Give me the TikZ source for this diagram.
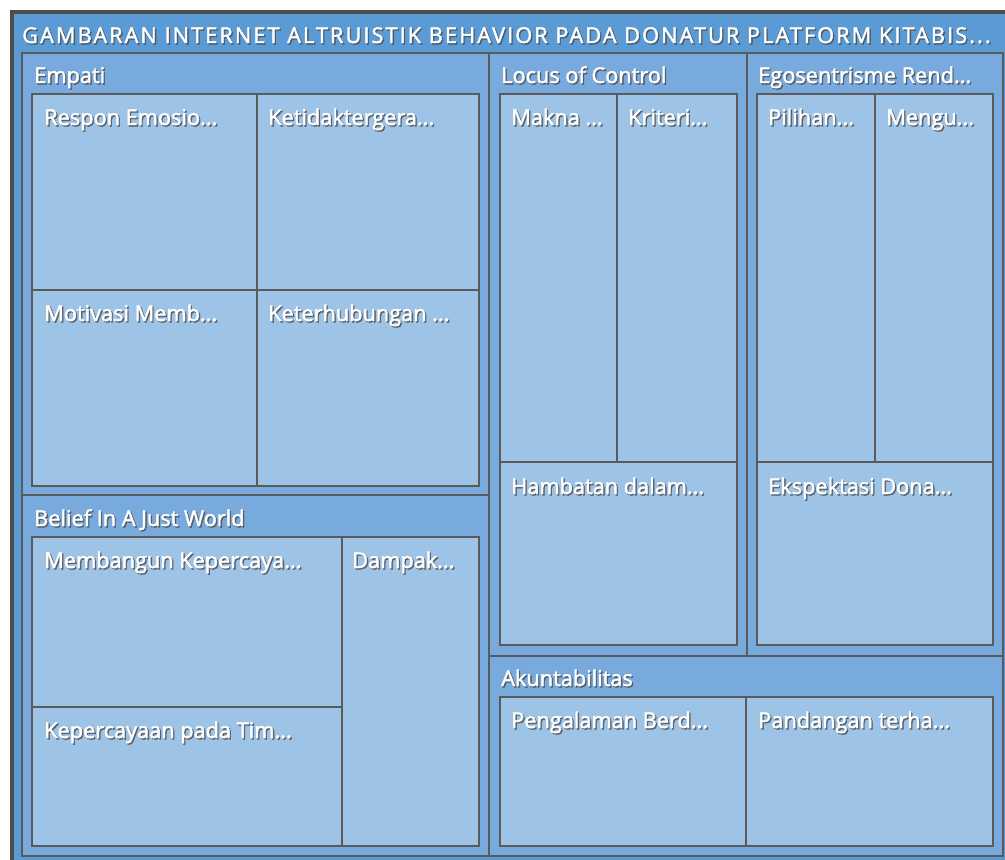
\documentclass[tikz,border=0pt]{standalone}
\usepackage{fontspec}
\setmainfont{Open Sans}
\newfontfamily\tmfont[FakeBold=2]{Open Sans}
\usetikzlibrary{positioning}

\definecolor{outerblue}{HTML}{5B9BD5}
\definecolor{groupblue}{HTML}{79AADD}
\definecolor{leafblue}{HTML}{9DC3E6}
\definecolor{framegray}{HTML}{5A5A5A}

% label with a soft drop shadow
\newcommand{\tmlabel}[3]{%
    \node [lbl, text=black!70, opacity=0.75, xshift=1pt, yshift=-1pt] at (#2) {#3};
    \node [lbl] (#1) at (#2) {#3};}

\begin{document}
\begin{tikzpicture}[x=0.75pt, y=-0.75pt,
    group/.style={fill=groupblue, draw=framegray, line width=1.5pt},
    leaf/.style={fill=leafblue, draw=framegray, line width=1.5pt},
    lbl/.style={anchor=base west, inner sep=0pt, text=white,
        font=\tmfont\fontsize{16.3}{19}\selectfont}]
    \useasboundingbox (0,0) rectangle (1005,859);
    \fill [white] (0,0) rectangle (1005,859);

    % outer frame
    \draw [fill=outerblue, draw=framegray!85!black, line width=3pt] (12,12) rectangle (1012,864);
    \tmlabel{title}{22,43}{\addfontfeature{LetterSpace=9.5}GAMBARAN INTERNET ALTRUISTIK BEHAVIOR PADA DONATUR PLATFORM KITABIS...}

    % Empati
    \draw [group] (22,53) rectangle (489,495);
    \draw [leaf] (32,94) rectangle (257,290);
    \draw [leaf] (257,94) rectangle (479,290);
    \draw [leaf] (32,290) rectangle (257,486);
    \draw [leaf] (257,290) rectangle (479,486);
    \tmlabel{empati}{34,83}{Empati}
    \tmlabel{respon}{44,125}{Respon Emosio...}
    \tmlabel{ketidak}{268,125}{Ketidaktergera...}
    \tmlabel{motivasi}{44,321}{Motivasi Memb...}
    \tmlabel{keterhub}{268,321}{Keterhubungan ...}

    % Belief In A Just World
    \draw [group] (22,495) rectangle (489,856);
    \draw [leaf] (32,537) rectangle (342,707);
    \draw [leaf] (32,707) rectangle (342,846);
    \draw [leaf] (342,537) rectangle (479,846);
    \tmlabel{belief}{34,526}{Belief In A Just World}
    \tmlabel{membangun}{44,568}{Membangun Kepercaya...}
    \tmlabel{kepercayaan}{44,738}{Kepercayaan pada Tim...}
    \tmlabel{dampak}{352,568}{Dampak...}

    % Locus of Control
    \draw [group] (489,53) rectangle (747,656);
    \draw [leaf] (500,94) rectangle (617,462);
    \draw [leaf] (617,94) rectangle (737,462);
    \draw [leaf] (500,462) rectangle (737,645);
    \tmlabel{locus}{501,83}{Locus of Control}
    \tmlabel{makna}{511,125}{Makna ...}
    \tmlabel{kriteri}{628,125}{Kriteri...}
    \tmlabel{hambatan}{511,494}{Hambatan dalam...}

    % Egosentrisme
    \draw [group] (747,53) rectangle (1003,656);
    \draw [leaf] (757,94) rectangle (875,462);
    \draw [leaf] (875,94) rectangle (993,462);
    \draw [leaf] (757,462) rectangle (993,645);
    \tmlabel{ego}{758,83}{Egosentrisme Rend...}
    \tmlabel{pilihan}{768,125}{Pilihan...}
    \tmlabel{mengu}{886,125}{Mengu...}
    \tmlabel{ekspektasi}{768,494}{Ekspektasi Dona...}

    % Akuntabilitas
    \draw [group] (489,656) rectangle (1003,856);
    \draw [leaf] (500,697) rectangle (746,846);
    \draw [leaf] (746,697) rectangle (993,846);
    \tmlabel{akunt}{501,686}{Akuntabilitas}
    \tmlabel{pengalaman}{511,728}{Pengalaman Berd...}
    \tmlabel{pandangan}{758,728}{Pandangan terha...}
\end{tikzpicture}
\end{document}
